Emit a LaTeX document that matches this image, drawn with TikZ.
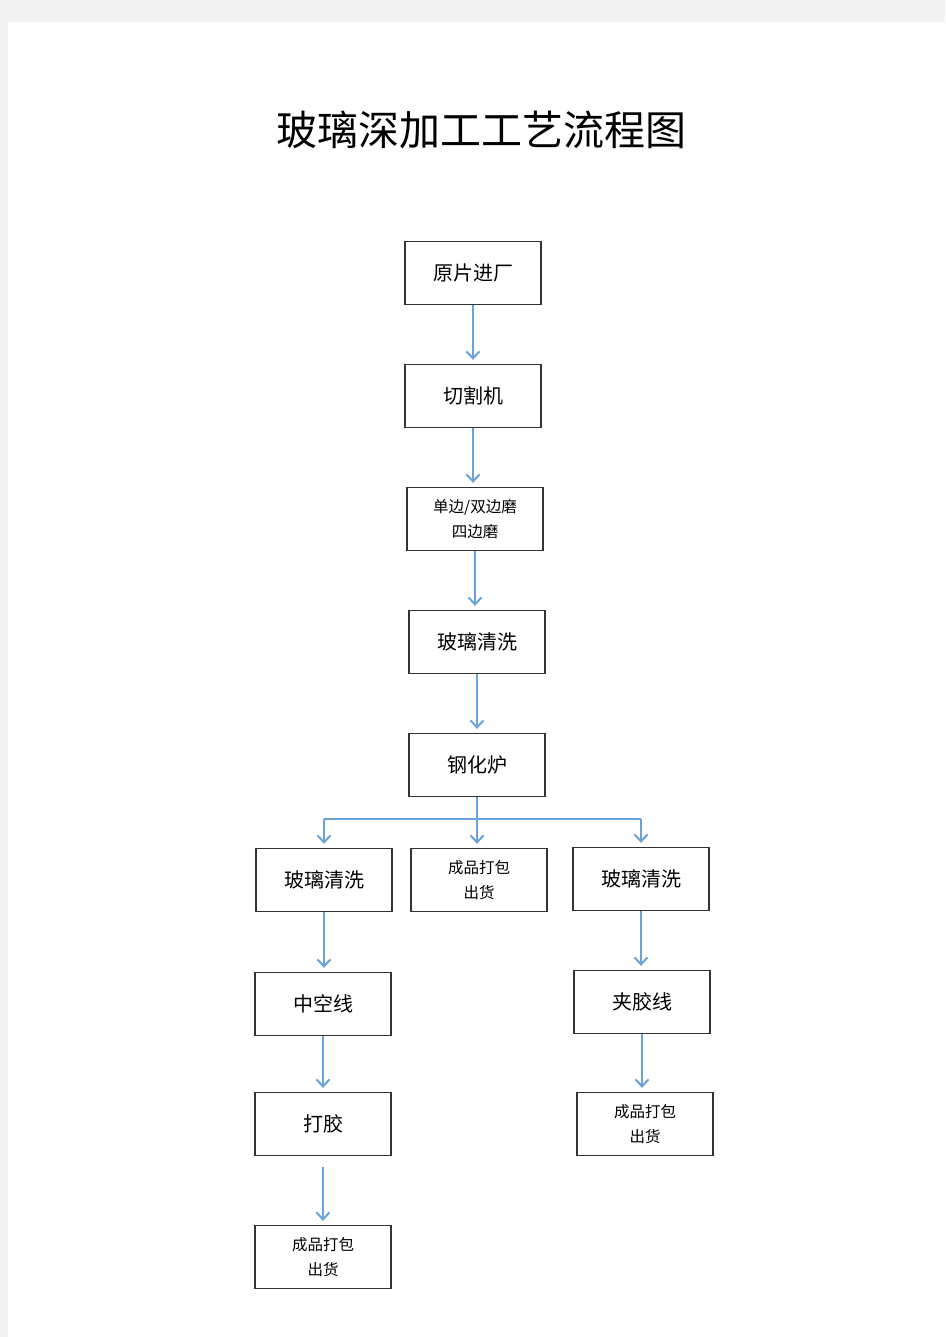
\documentclass[tikz,border=0pt]{standalone}
\usepackage{fontspec}
\setmainfont{Noto Sans CJK SC}
\usepackage{xcolor}
\usetikzlibrary{arrows.meta, positioning}
\definecolor{linkblue}{HTML}{6AA2DA}
\definecolor{pagegray}{HTML}{F3F3F3}

\begin{document}
\begin{tikzpicture}[x=1pt, y=-1pt,
  stepbox/.style={draw=black!80, line width=1.3pt, fill=white, minimum width=136pt, minimum height=63pt, inner sep=0pt, font=\fontsize{20}{24}\selectfont},
  smallbox/.style={stepbox, align=center, font=\fontsize{15.5}{25}\selectfont},
  flowline/.style={draw=linkblue, line width=2pt},
  flow/.style={flowline, -{Straight Barb[length=7pt, width=13pt]}, shorten >=4pt}]
% page
\fill[pagegray] (0,0) rectangle (945,1337);
\fill[white] (8,22) rectangle (945,1337);
\useasboundingbox (0,0) rectangle (945,1337);

\node[font=\fontsize{41}{48}\selectfont] (title) at (481,130) {玻璃深加工工艺流程图};

% main line
\node[stepbox] (raw) at (473,273) {原片进厂};
\node[stepbox] (cut) at (473,396) {切割机};
\node[smallbox] (edge) at (475,519) {单边/双边磨\\四边磨};
\node[stepbox] (wash) at (477,642) {玻璃清洗};
\node[stepbox] (temper) at (477,765) {钢化炉};

% branches
\node[stepbox] (washL) at (324,880) {玻璃清洗};
\node[smallbox] (packM) at (479,880) {成品打包\\出货};
\node[stepbox] (washR) at (641,879) {玻璃清洗};
\node[stepbox] (hollow) at (323,1004) {中空线};
\node[stepbox] (glue) at (323,1124) {打胶};
\node[smallbox] (packL) at (323,1257) {成品打包\\出货};
\node[stepbox] (laminate) at (642,1002) {夹胶线};
\node[smallbox] (packR) at (645,1124) {成品打包\\出货};

\draw[flow] (raw.south) -- (raw.south |- cut.north);
\draw[flow] (cut.south) -- (cut.south |- edge.north);
\draw[flow] (edge.south) -- (edge.south |- wash.north);
\draw[flow] (wash.south) -- (wash.south |- temper.north);

\path (temper.south) ++(0,22) coordinate (split);
\draw[flowline] (temper.south) -- (split);
\draw[flowline] (split -| washL.north) -- (split -| washR.north);
\draw[flow] (split -| washL.north) -- (washL.north);
\draw[flow] (split) -- (split |- packM.north);
\draw[flow] (split -| washR.north) -- (washR.north);

\draw[flow] (washL.south) -- (washL.south |- hollow.north);
\draw[flow] (hollow.south) -- (hollow.south |- glue.north);
\draw[flow, shorten <=11pt] (glue.south) -- (glue.south |- packL.north);
\draw[flow] (washR.south) -- (washR.south |- laminate.north);
\draw[flow] (laminate.south) -- (laminate.south |- packR.north);
\end{tikzpicture}
\end{document}
